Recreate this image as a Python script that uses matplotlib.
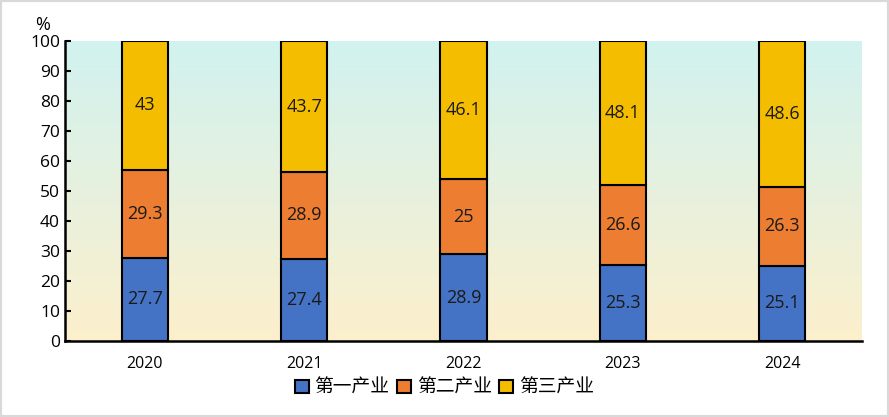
import matplotlib.pyplot as plt
import numpy as np
from matplotlib.patches import Rectangle

plt.rcParams['font.family'] = ['Open Sans', 'Noto Sans CJK SC', 'DejaVu Sans']

# Data
years = ["2020", "2021", "2022", "2023", "2024"]
primary = [27.7, 27.4, 28.9, 25.3, 25.1]
secondary = [29.3, 28.9, 25, 26.6, 26.3]
tertiary = [43, 43.7, 46.1, 48.1, 48.6]
series_names = ["第一产业", "第二产业", "第三产业"]
colors = ["#4472C4", "#ED7D31", "#F5BD00"]

fig = plt.figure(figsize=(8.89, 4.17), dpi=100)
fig.patches.append(Rectangle((0, 0), 1, 1, transform=fig.transFigure,
                             fill=False, edgecolor="#d9d9d9", linewidth=3))
ax = fig.add_axes([0.0731, 0.1823, 0.8965, 0.7194])

x = np.arange(len(years))
width = 0.29

# gradient background
grad = np.linspace(0, 1, 256).reshape(-1, 1)
top = np.array([0.82, 0.95, 0.94])
bot = np.array([0.99, 0.94, 0.80])
img = bot + (top - bot) * grad[:, :, None] * np.ones((1, 1, 3))
ax.imshow(img, extent=[-0.5, len(years) - 0.5, 0, 100], origin="lower",
          aspect="auto", zorder=0)

bottom = np.zeros(len(years))
for vals, name, c in zip([primary, secondary, tertiary], series_names, colors):
    ax.bar(x, vals, width, bottom=bottom, color=c, edgecolor="black",
           linewidth=1.5, label=name, zorder=2)
    for xi, b, v in zip(x, bottom, vals):
        ax.text(xi, b + v / 2, f"{v:g}", ha="center", va="center",
                fontsize=13, color="#1a1a1a", zorder=3)
    bottom += np.array(vals)

ax.set_xlim(-0.5, len(years) - 0.5)
ax.set_ylim(0, 100)
ax.set_yticks(range(0, 101, 10))
ax.set_xticks(x)
ax.set_xticklabels(years)
ax.tick_params(axis="both", direction="in", labelsize=12.5, width=1.5, length=4)
ax.tick_params(axis="x", pad=11, labelsize=11.5)
for s in ["top", "right"]:
    ax.spines[s].set_visible(False)
for s in ["left", "bottom"]:
    ax.spines[s].set_linewidth(1.8)

fig.text(0.048, 0.94, "%", fontsize=13, ha="center", va="center")

ax.legend(loc="upper center", bbox_to_anchor=(0.476, -0.095), ncol=3, frameon=False,
          handlelength=0.75, handleheight=0.75, handletextpad=0.3,
          columnspacing=0.4, borderaxespad=0,
          prop={'family': ['Noto Sans CJK SC'], 'size': 13.5})

fig.savefig("out.png", dpi=100)
